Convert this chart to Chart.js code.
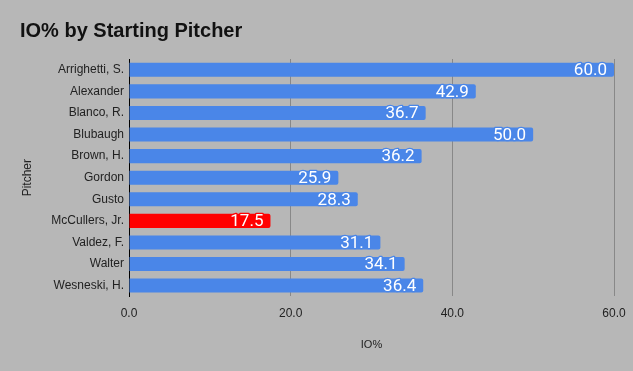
<!DOCTYPE html>
<html>
<head>
<meta charset="utf-8">
<script src="https://cdn.jsdelivr.net/npm/chart.js@4.4.0/dist/chart.umd.min.js"></script>
<style>
html,body{margin:0;padding:0;background:#b7b7b7;}
canvas{display:block;}
</style>
</head>
<body>
<canvas id="c" width="633" height="371"></canvas>
<script>
const categories = ["Arrighetti, S.","Alexander","Blanco, R.","Blubaugh","Brown, H.","Gordon","Gusto","McCullers, Jr.","Valdez, F.","Walter","Wesneski, H."];
const ioValues = [60.0, 42.9, 36.7, 50.0, 36.2, 25.9, 28.3, 17.5, 31.1, 34.1, 36.4];
const highlight = "McCullers, Jr.";
const xTicks = [0, 20, 40, 60];

const BLUE = "#4a86e8", RED = "#ff0000";
const barColors = categories.map(c => c === highlight ? RED : BLUE);

const bgPlugin = {
  id: 'bg',
  beforeDraw(chart) {
    const {ctx, width, height} = chart;
    ctx.save(); ctx.fillStyle = '#b7b7b7'; ctx.fillRect(0,0,width,height); ctx.restore();
  }
};

const labelPlugin = {
  id: 'barLabels',
  afterDatasetsDraw(chart) {
    const ctx = chart.ctx;
    const meta = chart.getDatasetMeta(0);
    ctx.save();
    ctx.font = '17px Roboto';
    ctx.textAlign = 'right';
    ctx.textBaseline = 'middle';
    ctx.lineJoin = 'round';
    meta.data.forEach((bar, i) => {
      const txt = ioValues[i].toFixed(1);
      const x = bar.x - 7, y = bar.y + 1;
      ctx.lineWidth = 2.5;
      ctx.strokeStyle = barColors[i];
      ctx.strokeText(txt, x, y);
      ctx.fillStyle = '#ffffff';
      ctx.fillText(txt, x, y);
    });
    ctx.restore();
  }
};

new Chart(document.getElementById('c'), {
  type: 'bar',
  data: {
    labels: categories,
    datasets: [{
      data: ioValues,
      backgroundColor: barColors,
      borderRadius: 2,
      borderSkipped: 'start',
      categoryPercentage: 1.0,
      barPercentage: 0.65
    }]
  },
  options: {
    indexAxis: 'y',
    responsive: false,
    animation: false,
    layout: { padding: { left: 20, right: 19, top: 10, bottom: 19 } },
    plugins: {
      legend: { display: false },
      tooltip: { enabled: false },
      title: {
        display: true,
        text: 'IO% by Starting Pitcher',
        align: 'start',
        color: '#111',
        font: { family: 'Liberation Sans', size: 20, weight: 'bold' },
        padding: { top: 9, bottom: 16 }
      }
    },
    scales: {
      x: {
        min: 0, max: 60,
        afterBuildTicks(scale) { scale.ticks = xTicks.map(v => ({value: v})); },
        afterFit(scale) { scale.paddingLeft = 0; scale.paddingRight = 0; },
        ticks: {
          color: '#222',
          padding: 10,
          font: { family: 'Liberation Sans', size: 12 },
          callback: v => Number(v).toFixed(1)
        },
        grid: {
          drawTicks: false,
          color: ctx => (ctx.tick && ctx.tick.value === 0) ? 'rgba(0,0,0,0)' : '#888888',
          lineWidth: 1
        },
        border: { display: false },
        title: {
          display: true, text: 'IO%', color: '#222',
          font: { family: 'Liberation Sans', size: 11 },
          padding: { top: 8, bottom: 0 }
        }
      },
      y: {
        afterFit(scale) { scale.width = 109; },
        ticks: {
          color: '#222',
          padding: 5,
          font: { family: 'Liberation Sans', size: 12 }
        },
        grid: { display: false, drawTicks: false },
        border: { display: true, color: '#000000', width: 1 },
        title: {
          display: true, text: 'Pitcher', color: '#222',
          font: { family: 'Liberation Sans', size: 12 },
          padding: { top: 0, bottom: 0 }
        }
      }
    }
  },
  plugins: [bgPlugin, labelPlugin]
});
</script>
</body>
</html>
